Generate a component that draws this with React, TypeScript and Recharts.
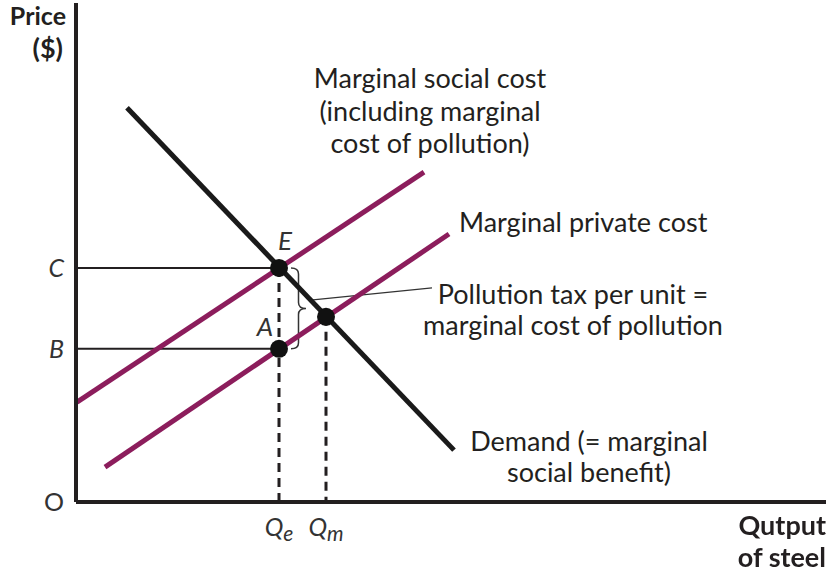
import React from "react";
import {
  ComposedChart,
  Line,
  Scatter,
  XAxis,
  YAxis,
  ReferenceLine,
  ReferenceArea,
} from "recharts";

// quantity (0-150) and price (0-100) in chart units
const demand = [
  { q: 10.2, p: 79.0 },
  { q: 75.6, p: 10.4 },
];
const socialCost = [
  { q: 0.2, p: 20.0 },
  { q: 69.6, p: 66.1 },
];
const privateCost = [
  { q: 5.8, p: 7.0 },
  { q: 74.6, p: 53.7 },
];
const points = [
  { q: 40.6, p: 46.9 },
  { q: 40.6, p: 30.7 },
  { q: 50, p: 37.1 },
];
const qTicks = [40.6, 50];
const qTickLabels: Record<number, [string, string]> = { 40.6: ["Q", "e"], 50: ["Q", "m"] };
const pTicks = [0, 30.7, 46.9];
const pTickLabels: Record<number, string> = { 0: "O", 30.7: "B", 46.9: "C" };
const QE = 40.6;
const QM = 50;
const PRICE_C = 46.9;
const PRICE_B = 30.7;
const PRICE_M = 37.1;

const AXIS = "#231f20";
const MAGENTA = "#8c1d5c";
const FONT = "Lato, 'Open Sans', sans-serif";
const TEXT = "#231f20";
const SIZE = 27;

const YTick = (props: any) => {
  const { x, y, payload } = props;
  const label = pTickLabels[payload.value];
  return (
    <text
      x={x - 10}
      y={y}
      dy={9}
      textAnchor="end"
      fontFamily={FONT}
      fontSize={25}
      fontStyle={label === "O" ? "normal" : "italic"}
      fill="#333"
    >
      {label}
    </text>
  );
};

const XTick = (props: any) => {
  const { x, y, payload } = props;
  const [main, sub] = qTickLabels[payload.value] ?? ["", ""];
  return (
    <text x={x} y={y + 32} textAnchor="middle" fontFamily={FONT} fontSize={25} fontStyle="italic" fill="#333">
      <tspan>{main}</tspan>
      <tspan dy={5} fontSize={21}>
        {sub}
      </tspan>
    </text>
  );
};

const Brace = (props: any) => {
  const { x, y, width: w, height: h } = props;
  const r = 6;
  const mid = y + h / 2;
  const cx = x + w / 2;
  const d = `M${x},${y} Q${cx},${y} ${cx},${y + r} L${cx},${mid - r} Q${cx},${mid} ${x + w},${mid} Q${cx},${mid} ${cx},${mid + r} L${cx},${y + h - r} Q${cx},${y + h} ${x},${y + h}`;
  return <path d={d} fill="none" stroke="#333" strokeWidth={1.5} />;
};

const Dot = (props: any) => <circle cx={props.cx} cy={props.cy} r={9} fill="#111" />;

const textStyle: React.CSSProperties = {
  position: "absolute",
  fontFamily: FONT,
  fontSize: SIZE,
  color: TEXT,
  whiteSpace: "nowrap",
  lineHeight: "32px",
};

export default function App() {
  return (
    <div style={{ position: "fixed", left: 0, top: 0, width: 831, height: 572, background: "#fff" }}>
      <ComposedChart width={831} height={572} margin={{ top: 3, right: 5, bottom: 40, left: 16 }}>
        <XAxis
          type="number"
          dataKey="q"
          domain={[0, 150]}
          ticks={qTicks}
          height={30}
          axisLine={{ stroke: AXIS, strokeWidth: 4 }}
          tickLine={false}
          tickSize={0}
          tick={<XTick />}
          interval={0}
        />
        <YAxis
          type="number"
          dataKey="p"
          domain={[0, 100]}
          ticks={pTicks}
          width={60}
          axisLine={{ stroke: AXIS, strokeWidth: 4 }}
          tickLine={false}
          tickSize={0}
          tick={<YTick />}
          interval={0}
        />
        <ReferenceLine segment={[{ x: 0, y: PRICE_C }, { x: QE, y: PRICE_C }]} stroke={AXIS} strokeWidth={2} />
        <ReferenceLine segment={[{ x: 0, y: PRICE_B }, { x: QE, y: PRICE_B }]} stroke={AXIS} strokeWidth={2} />
        <ReferenceLine
          segment={[{ x: QE, y: PRICE_C }, { x: QE, y: 0 }]}
          stroke={AXIS}
          strokeWidth={3}
          strokeDasharray="9 6"
        />
        <ReferenceLine
          segment={[{ x: QM, y: PRICE_M }, { x: QM, y: 0 }]}
          stroke={AXIS}
          strokeWidth={3}
          strokeDasharray="9 6"
        />
        <ReferenceArea x1={43} x2={46} y1={PRICE_B} y2={PRICE_C} shape={<Brace />} />
        <ReferenceLine segment={[{ x: 47.4, y: 40.5 }, { x: 71.2, y: 42.9 }]} stroke="#333" strokeWidth={1.3} />
        <Line data={socialCost} dataKey="p" stroke={MAGENTA} strokeWidth={5} dot={false} isAnimationActive={false} />
        <Line data={privateCost} dataKey="p" stroke={MAGENTA} strokeWidth={5} dot={false} isAnimationActive={false} />
        <Line data={demand} dataKey="p" stroke="#1a1a1a" strokeWidth={5} dot={false} isAnimationActive={false} />
        <Scatter data={points} dataKey="p" shape={<Dot />} isAnimationActive={false} />
      </ComposedChart>

      <div
        style={{ ...textStyle, left: 0, top: 3, width: 66, fontSize: 25, textAlign: "right", fontWeight: 700, lineHeight: "24px" }}
      >
        Price
      </div>
      <div style={{ ...textStyle, left: 0, top: 32, width: 63, textAlign: "right", fontWeight: 700 }}>($)</div>
      <div style={{ ...textStyle, right: 5, top: 509, textAlign: "right", fontWeight: 700 }}>
        Qutput
        <br />
        of steel
      </div>
      <div style={{ ...textStyle, left: 230, width: 400, top: 62, textAlign: "center", lineHeight: "32.5px" }}>
        Marginal social cost
        <br />
        (including marginal
        <br />
        cost of pollution)
      </div>
      <div style={{ ...textStyle, left: 459, top: 206 }}>Marginal private cost</div>
      <div style={{ ...textStyle, left: 373, width: 400, top: 278, textAlign: "center", lineHeight: "31px" }}>
        Pollution tax per unit =
        <br />
        marginal cost of pollution
      </div>
      <div style={{ ...textStyle, left: 389, width: 400, top: 425, textAlign: "center", lineHeight: "31px" }}>
        Demand (= marginal
        <br />
        social benefit)
      </div>
      <div
        style={{ ...textStyle, fontSize: 26, left: 235, width: 100, top: 224, textAlign: "center", fontStyle: "italic", color: "#333" }}
      >
        E
      </div>
      <div
        style={{ ...textStyle, fontSize: 26, left: 215, width: 100, top: 310, textAlign: "center", fontStyle: "italic", color: "#333" }}
      >
        A
      </div>
    </div>
  );
}
